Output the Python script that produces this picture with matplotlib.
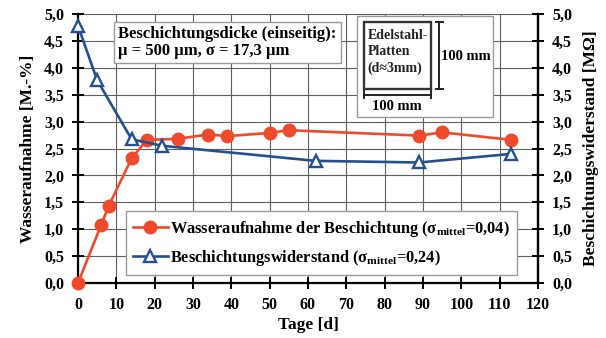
import matplotlib
matplotlib.use("Agg")
import matplotlib.pyplot as plt
from matplotlib.patches import Rectangle
from matplotlib.lines import Line2D

# water uptake of the coating [M.-%]
tage_wa = [0, 6, 8, 14, 18, 26, 34, 39, 50, 55, 89, 95, 113]
wasser = [0.0, 1.07, 1.43, 2.32, 2.66, 2.68, 2.76, 2.73, 2.79, 2.84, 2.74, 2.80, 2.66]

# coating resistance [MOhm]
tage_wd = [0, 5, 14, 22, 62, 89, 113]
widerstand = [4.78, 3.77, 2.67, 2.55, 2.27, 2.24, 2.40]

x_ticks = list(range(0, 121, 10))
y_ticks = [0.0, 0.5, 1.0, 1.5, 2.0, 2.5, 3.0, 3.5, 4.0, 4.5, 5.0]
y_labels = [f"{v:.1f}".replace(".", ",") for v in y_ticks]

RED = "#ef4a2c"
BLUE = "#24508f"
GRID = "#5e5e5e"
DARK = "#222222"
SERIF = ["Liberation Serif", "DejaVu Serif"]

plt.rcParams["font.family"] = SERIF
plt.rcParams["font.weight"] = "bold"
plt.rcParams["mathtext.fontset"] = "custom"
plt.rcParams["mathtext.rm"] = "Liberation Serif:bold"

fig = plt.figure(figsize=(6.06, 3.38), dpi=100)
ax = fig.add_axes([0.1287, 0.1627, 0.7591, 0.7959])
ax2 = ax.twinx()

ax.set_xlim(0, 120)
ax.set_ylim(0, 5)
ax2.set_ylim(0, 5)
ax.set_xticks(x_ticks)
ax.set_xticklabels([str(t) for t in x_ticks])
ax.set_yticks(y_ticks)
ax.set_yticklabels(y_labels)
ax2.set_yticks(y_ticks)
ax2.set_yticklabels(y_labels)

ax.grid(True, color=GRID, lw=0.8)
ax.set_axisbelow(True)
for a in (ax, ax2):
    a.spines["top"].set_visible(False)
    for s in ("left", "right", "bottom"):
        a.spines[s].set_linewidth(1.6)
        a.spines[s].set_color("black")
    a.tick_params(direction="inout", length=8, width=1.4, labelsize=11.5, pad=6)
ax2.spines["left"].set_visible(False)
ax2.spines["bottom"].set_visible(False)

ax.plot(tage_wa, wasser, color=RED, lw=1.9, marker="o", ms=9,
        mfc=RED, mec=RED, zorder=4, clip_on=False)
ax2.plot(tage_wd, widerstand, color=BLUE, lw=1.9, marker="^", ms=9,
         mfc="white", mec=BLUE, mew=1.7, zorder=4, clip_on=False)

ax.set_xlabel("Tage [d]", fontsize=12.5, fontweight="bold", labelpad=3)
ax.set_ylabel("Wasseraufnahme [M.-%]", fontsize=12.5, fontweight="bold", labelpad=6)
ax2.set_ylabel("Beschichtungswiderstand [MΩ]", fontsize=12.5, fontweight="bold", labelpad=8)

# legend with both series
handles = [
    Line2D([], [], color=RED, lw=1.9, marker="o", ms=9, mfc=RED, mec=RED),
    Line2D([], [], color=BLUE, lw=1.9, marker="^", ms=9, mfc="white",
           mec=BLUE, mew=1.7),
]
labels = [
    r"Wasseraufnahme der Beschichtung (σ$_{\mathregular{mittel}}$=0,04)",
    r"Beschichtungswiderstand (σ$_{\mathregular{mittel}}$=0,24)",
]
leg = ax2.legend(handles, labels, loc="lower left",
                 bbox_to_anchor=(0.104, 0.03), prop={"size": 11.8, "weight": "bold"},
                 fancybox=False, edgecolor="#9a9a9a", framealpha=1,
                 handlelength=2.1, handletextpad=0.15, borderpad=0.45,
                 labelspacing=0.55, borderaxespad=0)
leg.get_frame().set_linewidth(1.0)
leg.set_zorder(10)

# coating thickness box
ax2.text(0.088, 0.955, "Beschichtungsdicke (einseitig):\nμ = 500 µm, σ = 17,3 µm",
         transform=ax2.transAxes, ha="left", va="top", fontsize=12,
         fontweight="bold", linespacing=1.1, zorder=11,
         bbox=dict(boxstyle="square,pad=0.25", fc="white", ec="#9a9a9a", lw=1.0))


def px(x, y):
    # pixel position inside the plot frame -> axes fraction
    return ((x - 78) / 460, (283 - y) / 269)


# specimen sketch: stainless steel plate with dimensions
bx, by = px(357, 117)
bw = (493 - 357) / 460
bh = (117 - 16) / 269
ax2.add_patch(Rectangle((bx, by), bw, bh, transform=ax2.transAxes,
                        fc="white", ec="#9a9a9a", lw=1.0, zorder=11))
rx, ry = px(364, 89)
rw = (431 - 364) / 460
rh = (89 - 22) / 269
ax2.add_patch(Rectangle((rx, ry), rw, rh, transform=ax2.transAxes,
                        fc="white", ec="#333333", lw=1.7, zorder=12))
ax2.text(rx + 0.008, ry + rh - 0.025, "Edelstahl-\nPlatten\n(d≈3mm)",
         transform=ax2.transAxes, ha="left", va="top", fontsize=10,
         fontweight="bold", linespacing=1.35, color=DARK, zorder=13)

# vertical dimension
vx0, vy0 = px(439, 89)
vx1, vy1 = px(439, 22)
cap = 3.5 / 460
ax2.plot([vx0, vx0], [vy0, vy1], transform=ax2.transAxes, color=DARK, lw=1.4, zorder=13)
for yy in (vy0, vy1):
    ax2.plot([vx0 - cap, vx0 + cap], [yy, yy], transform=ax2.transAxes,
             color=DARK, lw=1.4, zorder=13)
tx, ty = px(441, 57)
ax2.text(tx, ty, "100 mm", transform=ax2.transAxes,
         ha="left", va="center", fontsize=10.5, fontweight="bold", zorder=13)

# horizontal dimension
hx0, hy0 = px(364, 95)
hx1, _ = px(431, 95)
capy = 3.5 / 269
ax2.plot([hx0, hx1], [hy0, hy0], transform=ax2.transAxes, color=DARK, lw=1.4, zorder=13)
for xx in (hx0, hx1):
    ax2.plot([xx, xx], [hy0 - capy, hy0 + capy], transform=ax2.transAxes,
             color=DARK, lw=1.4, zorder=13)
tx, ty = px(397, 107)
ax2.text(tx, ty, "100 mm", transform=ax2.transAxes,
         ha="center", va="center", fontsize=10.5, fontweight="bold", zorder=13)

fig.savefig("out.png", dpi=100)
